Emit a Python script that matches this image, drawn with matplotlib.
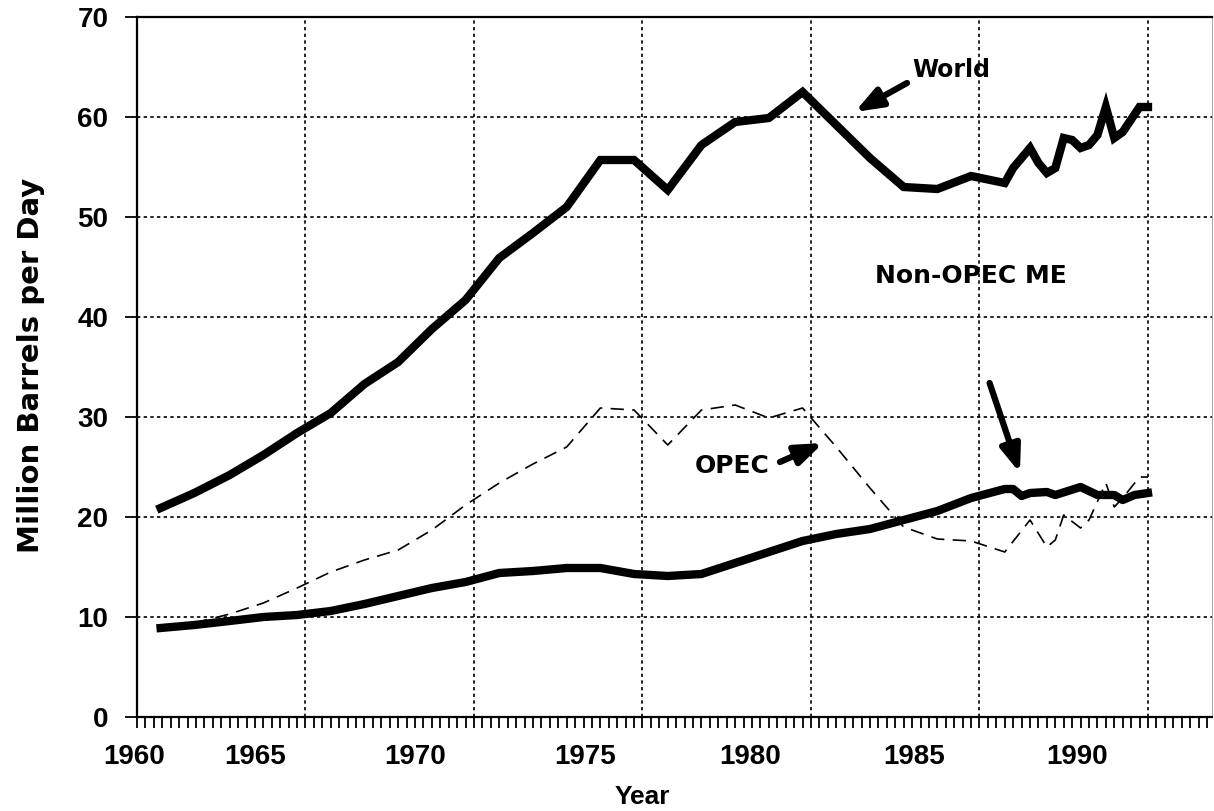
import matplotlib
matplotlib.use("Agg")
import matplotlib.pyplot as plt
from matplotlib.ticker import MultipleLocator
from matplotlib.transforms import blended_transform_factory

# ---- data ----
world_t = [1960.7, 1961.7, 1962.75, 1963.75, 1964.75, 1965.75, 1966.75, 1967.75,
           1968.75, 1969.75, 1970.75, 1971.75, 1972.75, 1973.75, 1974.75, 1975.75,
           1976.75, 1977.75, 1978.75, 1979.75, 1980.75, 1981.75, 1982.75, 1983.75,
           1984.75, 1985.75, 1986.0, 1986.5, 1986.75, 1987.0, 1987.25, 1987.5,
           1987.75, 1988.0, 1988.25, 1988.5, 1988.75, 1989.0, 1989.25, 1989.75, 1990.0]
world = [20.9, 22.4, 24.2, 26.2, 28.4, 30.4, 33.3, 35.5,
         38.8, 41.7, 45.9, 48.4, 51.0, 55.7, 55.7, 52.7,
         57.2, 59.5, 59.9, 62.5, 59.2, 55.9, 53.0, 52.8,
         54.1, 53.4, 54.9, 56.9, 55.4, 54.4, 54.9, 57.9,
         57.7, 56.9, 57.2, 58.2, 61.0, 57.9, 58.5, 61.0, 61.0]

nonopec_t = [1960.7, 1961.7, 1962.75, 1963.75, 1964.75, 1965.75, 1966.75, 1967.75,
             1968.75, 1969.75, 1970.75, 1971.75, 1972.75, 1973.75, 1974.75, 1975.75,
             1976.75, 1977.75, 1978.75, 1979.75, 1980.75, 1981.75, 1982.75, 1983.75,
             1984.75, 1985.75, 1986.0, 1986.25, 1986.5, 1987.0, 1987.25, 1988.0,
             1988.5, 1989.0, 1989.25, 1989.6, 1990.0]
nonopec = [8.9, 9.2, 9.6, 10.0, 10.2, 10.6, 11.3, 12.1,
           12.9, 13.5, 14.4, 14.6, 14.9, 14.9, 14.3, 14.1,
           14.3, 15.4, 16.5, 17.6, 18.3, 18.8, 19.7, 20.6,
           21.9, 22.8, 22.8, 22.1, 22.4, 22.5, 22.2, 23.0,
           22.2, 22.2, 21.7, 22.2, 22.4]

opec_t = [1961.7, 1962.75, 1963.75, 1964.75, 1965.75, 1966.75, 1967.75, 1968.75,
          1969.75, 1970.75, 1971.75, 1972.75, 1973.75, 1974.75, 1975.75, 1976.75,
          1977.75, 1978.75, 1979.75, 1980.75, 1981.75, 1982.75, 1983.75, 1984.75,
          1985.75, 1986.5, 1987.0, 1987.25, 1987.5, 1988.0, 1988.25, 1988.75,
          1989.0, 1989.25, 1989.75, 1990.0]
opec = [9.4, 10.3, 11.4, 12.9, 14.5, 15.7, 16.7, 18.7,
        21.2, 23.4, 25.3, 27.0, 30.9, 30.7, 27.2, 30.7,
        31.2, 29.9, 30.9, 27.0, 22.9, 19.0, 17.8, 17.6,
        16.5, 19.7, 17.0, 17.7, 20.2, 18.9, 19.7, 23.4,
        21.0, 21.9, 24.0, 24.0]

year_labels = ["1960", "1965", "1970", "1975", "1980", "1985", "1990"]
year_label_pos = [1959.9, 1963.5, 1968.25, 1973.3, 1978.2, 1983.05, 1987.9]
y_ticks = [0, 10, 20, 30, 40, 50, 60, 70]

plt.rcParams['font.family'] = ['Liberation Sans', 'DejaVu Sans']
plt.rcParams['font.weight'] = 'bold'
WIDE = ['DejaVu Sans']

fig = plt.figure(figsize=(12.14, 8.11), dpi=100)
ax = fig.add_axes([137/1214, 1-717/811, 1075/1214, 700/811])

ax.plot(world_t, world, color='black', lw=6, solid_joinstyle='miter', zorder=3)
ax.plot(nonopec_t, nonopec, color='black', lw=6, solid_joinstyle='round', zorder=3)
ax.plot(opec_t, opec, color='black', lw=1.2, dashes=(8, 5), zorder=3)

ax.set_xlim(1960, 1991.9)
ax.set_ylim(0, 70)
ax.set_xticks([1960, 1965, 1970, 1975, 1980, 1985, 1990])
ax.xaxis.set_minor_locator(MultipleLocator(0.25))
ax.set_xticklabels([])
ax.set_yticks(y_ticks)
ax.set_yticklabels([str(v) for v in y_ticks], fontsize=20, fontweight='bold')
ax.tick_params(axis='y', direction='out', length=8.6, width=1.3, pad=12)
ax.tick_params(axis='x', which='both', direction='out', length=8, width=1.3)

ax.grid(True, which='major', color='black', linestyle=(0, (2, 2)), linewidth=1.2)
for s in ax.spines.values():
    s.set_linewidth(1.6)
ax.spines['right'].set_linewidth(0.6)
ax.spines['right'].set_color('#999999')

tr = blended_transform_factory(ax.transData, ax.transAxes)
for lab, xp in zip(year_labels, year_label_pos):
    ax.text(xp, -0.057, lab, transform=tr, ha='center', va='center',
            fontsize=20, fontweight='bold')
ax.text(1975.0, -0.114, "Year", transform=tr, ha='center', va='center',
        fontsize=19, fontweight='bold')

ax.set_ylabel("Million Barrels per Day", fontsize=21, fontweight='bold', family=WIDE)
ax.yaxis.set_label_coords(-0.086, 0.503)

arrow_kw = dict(arrowstyle='-|>,head_length=0.8,head_width=0.3', color='black',
                lw=4.5, shrinkA=0, shrinkB=0, mutation_scale=20)
ax.annotate("", xy=(1981.3, 60.5), xytext=(1982.85, 63.4), arrowprops=arrow_kw)
ax.text(1983.0, 64.7, "World", ha='left', va='center', fontsize=17,
        fontweight='bold', family=WIDE)

ax.annotate("", xy=(1986.2, 24.4), xytext=(1985.3, 33.4), arrowprops=arrow_kw)
ax.text(1981.9, 44.1, "Non-OPEC ME", ha='left', va='center', fontsize=18,
        fontweight='bold', family=WIDE)

ax.annotate("", xy=(1980.36, 27.4), xytext=(1979.08, 25.5), arrowprops=arrow_kw)
ax.text(1976.56, 25.1, "OPEC", ha='left', va='center', fontsize=18,
        fontweight='bold', family=WIDE)

fig.savefig("out.png", dpi=100)
